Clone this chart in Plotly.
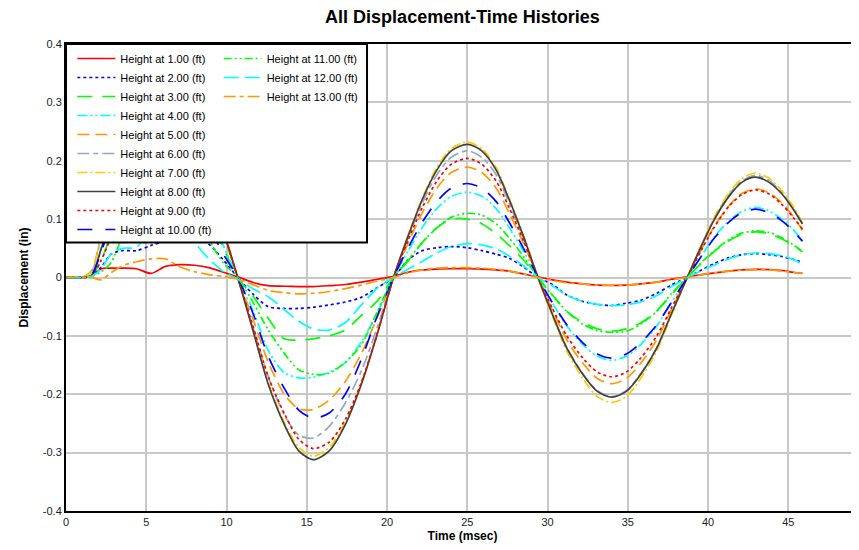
import plotly.graph_objects as go

# ---------------- data ----------------
TIME_MS = [0, 1.0, 1.6, 2.2, 2.8, 3.5, 4.4, 5.3, 6.2, 7.1, 8.0, 8.9, 9.8,
           10.7, 11.7, 12.6, 13.6, 14.5, 15.4, 16.4, 17.4, 18.4, 19.4,
           20.4, 21.3, 22.2, 23.1, 24.0, 25.0, 25.9, 26.8, 27.6, 28.5,
           29.4, 30.3, 31.2, 32.2, 33.1, 34.0, 34.9, 35.8, 36.8, 37.7,
           38.7, 39.6, 40.4, 41.3, 42.1, 42.95, 43.8, 44.6, 45.3, 45.875]

HEIGHTS_FT = [1, 2, 3, 4, 5, 6, 7, 8, 9, 10, 11, 12, 13]

disp_h01 = [0, 0, 0.002, 0.015, 0.016, 0.016, 0.015, 0.007, 0.019, 0.022, 0.021, 0.017, 0.009,
            0.001, -0.009, -0.014, -0.015, -0.0155, -0.0155, -0.014, -0.012, -0.008, -0.003,
            0.002, 0.009, 0.013, 0.0145, 0.015, 0.015, 0.0145, 0.013, 0.011, 0.006,
            0.001, -0.004, -0.008, -0.011, -0.013, -0.0137, -0.013, -0.011, -0.008, -0.003,
            0.001, 0.005, 0.008, 0.011, 0.013, 0.014, 0.0135, 0.012, 0.009, 0.007]
disp_h02 = [0, 0, 0.002, 0.018, 0.04, 0.046, 0.046, 0.055, 0.062, 0.066, 0.066, 0.057, 0.03,
            0, -0.03, -0.05, -0.053, -0.053, -0.051, -0.047, -0.042, -0.034, -0.017,
            0, 0.03, 0.046, 0.051, 0.053, 0.051, 0.046, 0.04, 0.033, 0.018,
            0, -0.012, -0.03, -0.041, -0.046, -0.048, -0.044, -0.039, -0.027, -0.013,
            0, 0.013, 0.024, 0.034, 0.039, 0.041, 0.039, 0.036, 0.031, 0.026]
disp_h03 = [0, 0, 0.003, 0.03, 0.07, 0.088, 0.088, 0.082, 0.1, 0.123, 0.12, 0.102, 0.05,
            0, -0.034, -0.07, -0.105, -0.107, -0.105, -0.1, -0.09, -0.065, -0.04,
            0, 0.028, 0.06, 0.085, 0.1, 0.1, 0.092, 0.075, 0.055, 0.03,
            0, -0.03, -0.058, -0.077, -0.088, -0.092, -0.088, -0.078, -0.057, -0.03,
            0, 0.025, 0.045, 0.063, 0.074, 0.078, 0.075, 0.066, 0.055, 0.044]
disp_h04 = [0, 0, 0.004, 0.05, 0.11, 0.14, 0.137, 0.15, 0.19, 0.2, 0.17, 0.12, 0.055,
            0, -0.06, -0.125, -0.163, -0.172, -0.171, -0.162, -0.146, -0.11, -0.06,
            0, 0.045, 0.086, 0.118, 0.139, 0.146, 0.139, 0.118, 0.086, 0.045,
            0, -0.044, -0.083, -0.115, -0.135, -0.142, -0.135, -0.115, -0.083, -0.044,
            0, 0.038, 0.07, 0.097, 0.113, 0.12, 0.114, 0.1, 0.082, 0.063]
disp_h05 = [0, 0, 0.012, 0.075, 0.13, 0.185, 0.235, 0.27, 0.28, 0.27, 0.225, 0.155, 0.075,
            0, -0.075, -0.145, -0.2, -0.225, -0.226, -0.21, -0.178, -0.13, -0.068,
            0, 0.058, 0.111, 0.153, 0.18, 0.189, 0.18, 0.153, 0.111, 0.058,
            0, -0.056, -0.107, -0.147, -0.173, -0.182, -0.173, -0.147, -0.107, -0.056,
            0, 0.049, 0.088, 0.123, 0.144, 0.152, 0.145, 0.128, 0.105, 0.081]
disp_h06 = [0, 0, 0.01, 0.07, 0.125, 0.18, 0.235, 0.275, 0.29, 0.28, 0.235, 0.165, 0.08,
            0, -0.09, -0.17, -0.235, -0.27, -0.275, -0.255, -0.215, -0.16, -0.085,
            0, 0.067, 0.128, 0.176, 0.206, 0.217, 0.206, 0.176, 0.128, 0.067,
            0, -0.063, -0.12, -0.165, -0.194, -0.204, -0.194, -0.165, -0.12, -0.063,
            0, 0.056, 0.102, 0.142, 0.165, 0.175, 0.166, 0.145, 0.119, 0.092]
disp_h07 = [0, 0, 0.01, 0.07, 0.125, 0.18, 0.24, 0.285, 0.3, 0.29, 0.245, 0.17, 0.085,
            0, -0.095, -0.18, -0.248, -0.291, -0.306, -0.291, -0.248, -0.18, -0.095,
            0, 0.072, 0.136, 0.188, 0.221, 0.232, 0.221, 0.188, 0.136, 0.072,
            0, -0.066, -0.126, -0.173, -0.204, -0.214, -0.204, -0.173, -0.126, -0.066,
            0, 0.057, 0.104, 0.145, 0.169, 0.179, 0.17, 0.149, 0.122, 0.094]
disp_h08 = [0, 0, 0.004, 0.05, 0.1, 0.155, 0.22, 0.27, 0.295, 0.29, 0.24, 0.165, 0.08,
            0, -0.096, -0.183, -0.252, -0.297, -0.312, -0.297, -0.252, -0.183, -0.096,
            0, 0.07, 0.134, 0.184, 0.217, 0.228, 0.217, 0.184, 0.134, 0.07,
            0, -0.063, -0.121, -0.166, -0.195, -0.205, -0.195, -0.166, -0.121, -0.063,
            0, 0.055, 0.1, 0.139, 0.163, 0.172, 0.163, 0.143, 0.117, 0.092]
disp_h09 = [0, 0, 0.003, 0.03, 0.07, 0.125, 0.2, 0.255, 0.285, 0.285, 0.24, 0.165, 0.08,
            0, -0.088, -0.17, -0.233, -0.277, -0.293, -0.282, -0.243, -0.18, -0.095,
            0, 0.063, 0.12, 0.165, 0.194, 0.204, 0.194, 0.165, 0.12, 0.063,
            0, -0.053, -0.1, -0.138, -0.162, -0.17, -0.162, -0.138, -0.1, -0.053,
            0, 0.048, 0.087, 0.122, 0.142, 0.15, 0.143, 0.125, 0.103, 0.083]
disp_h10 = [0, 0, 0.005, 0.045, 0.09, 0.14, 0.195, 0.22, 0.225, 0.2, 0.15, 0.09, 0.04,
            0, -0.065, -0.135, -0.19, -0.227, -0.241, -0.232, -0.2, -0.14, -0.065,
            0, 0.05, 0.095, 0.13, 0.153, 0.161, 0.153, 0.13, 0.095, 0.05,
            0, -0.043, -0.081, -0.112, -0.131, -0.138, -0.131, -0.112, -0.081, -0.043,
            0, 0.037, 0.068, 0.095, 0.111, 0.117, 0.111, 0.097, 0.08, 0.062]
disp_h11 = [0, 0, 0.002, 0.01, 0.025, 0.07, 0.12, 0.165, 0.185, 0.145, 0.11, 0.065, 0.025,
            0, -0.045, -0.09, -0.13, -0.158, -0.166, -0.164, -0.145, -0.115, -0.058,
            0, 0.03, 0.06, 0.085, 0.103, 0.11, 0.107, 0.092, 0.068, 0.036,
            0, -0.03, -0.058, -0.08, -0.091, -0.094, -0.092, -0.08, -0.058, -0.028,
            0, 0.026, 0.046, 0.065, 0.076, 0.08, 0.077, 0.068, 0.056, 0.045]
disp_h12 = [0, 0, 0.002, 0.015, 0.04, 0.05, 0.052, 0.085, 0.1, 0.09, 0.06, 0.032, 0.01,
            -0.003, -0.02, -0.033, -0.055, -0.075, -0.088, -0.09, -0.077, -0.047, -0.018,
            0, 0.014, 0.028, 0.042, 0.053, 0.058, 0.056, 0.049, 0.037, 0.02,
            0, -0.014, -0.03, -0.041, -0.046, -0.048, -0.047, -0.042, -0.031, -0.016,
            0, 0.012, 0.022, 0.032, 0.039, 0.042, 0.041, 0.037, 0.031, 0.023]
disp_h13 = [0, 0, 0.0, -0.004, 0.008, 0.02, 0.027, 0.032, 0.032, 0.018, 0.01, 0.005, 0.002,
            -0.003, -0.013, -0.022, -0.026, -0.028, -0.027, -0.024, -0.019, -0.013, -0.006,
            0, 0.008, 0.013, 0.016, 0.017, 0.017, 0.016, 0.014, 0.011, 0.006,
            0, -0.005, -0.009, -0.011, -0.013, -0.013, -0.013, -0.011, -0.008, -0.004,
            0, 0.005, 0.008, 0.011, 0.0125, 0.013, 0.013, 0.011, 0.009, 0.007]

X_TICKS = [0, 5, 10, 15, 20, 25, 30, 35, 40, 45]
Y_TICKS = [-0.4, -0.3, -0.2, -0.1, 0, 0.1, 0.2, 0.3, 0.4]
Y_TICK_LABELS = ["-0.4", "-0.3", "-0.2", "-0.1", "0", "0.1", "0.2", "0.3", "0.4"]

SERIES = [disp_h01, disp_h02, disp_h03, disp_h04, disp_h05, disp_h06, disp_h07,
          disp_h08, disp_h09, disp_h10, disp_h11, disp_h12, disp_h13]

# ---------------- styles ----------------
COLORS = ["#FF0000", "#0000FF", "#00FF00", "#00FFFF", "#FF9900", "#8FA8C8", "#FFCC00",
          "#404040", "#FF0000", "#0000FF", "#00FF00", "#00FFFF", "#FF9900"]
DASHES = ["solid", "3px,3px", "15px,10px", "10px,3px,2px,3px,2px,3px", "12px,6px",
          "12px,4px,5px,4px", "10px,3px,2px,3px", "solid", "3px,3px", "15px,13px",
          "8px,3px,2px,3px,2px,3px", "15px,6px", "12px,4px,4px,4px"]

FONT = "Liberation Sans, Arial, sans-serif"

# the page places the figure 8px from the window's top-left corner
FIG_W, FIG_H = 851, 542

fig = go.Figure()
for i, (h, vals) in enumerate(zip(HEIGHTS_FT, SERIES)):
    fig.add_trace(go.Scatter(
        x=TIME_MS, y=vals, mode="lines",
        name=f"Height at {h:.2f} (ft)",
        line=dict(color=COLORS[i], dash=DASHES[i], width=1.7, shape="spline", smoothing=0.8),
        legend="legend" if i < 10 else "legend2",
    ))

fig.update_layout(
    width=FIG_W, height=FIG_H,
    margin=dict(l=58, r=0, t=36, b=39),
    paper_bgcolor="white", plot_bgcolor="white",
    font=dict(family=FONT, size=11, color="#000000"),
    title=dict(text="<b>All Displacement-Time Histories</b>", x=0.5, xref="paper",
               y=1 - 9 / FIG_H, yref="container", yanchor="middle", xanchor="center",
               font=dict(size=18, color="#000000", family=FONT)),
    xaxis=dict(range=[0, 49.4], tickvals=X_TICKS, showgrid=True, gridcolor="#C8C8C8", gridwidth=2,
               showline=True, linecolor="#000000", linewidth=2, mirror=True, zeroline=False,
               ticks="", tickfont=dict(size=11, color="#222222"),
               title=dict(text="<b>Time (msec)</b>", font=dict(size=12, color="#000000"), standoff=4)),
    yaxis=dict(range=[-0.4, 0.4], tickvals=Y_TICKS, ticktext=Y_TICK_LABELS, showgrid=True,
               gridcolor="#C8C8C8", gridwidth=2, showline=True, linecolor="#000000", linewidth=2,
               zeroline=False, ticks="", tickfont=dict(size=11, color="#222222"),
               title=dict(text="<b>Displacement (in)</b>", font=dict(size=12, color="#000000"), standoff=12)),
    legend=dict(x=0.008, y=1.0, xanchor="left", yanchor="top", bgcolor="rgba(0,0,0,0)", borderwidth=0,
                font=dict(size=11, family=FONT, color="#000000"), itemwidth=38, tracegroupgap=0),
    legend2=dict(x=0.1925, y=1.0, xanchor="left", yanchor="top", bgcolor="rgba(0,0,0,0)", borderwidth=0,
                 font=dict(size=11, family=FONT, color="#000000"), itemwidth=38, tracegroupgap=0),
    shapes=[dict(type="rect", xref="paper", yref="paper", x0=0, x1=0.3796, y0=0.575, y1=1.0,
                 fillcolor="white", line=dict(color="#000000", width=2), layer="above")],
)

fig.write_html("out.html")
